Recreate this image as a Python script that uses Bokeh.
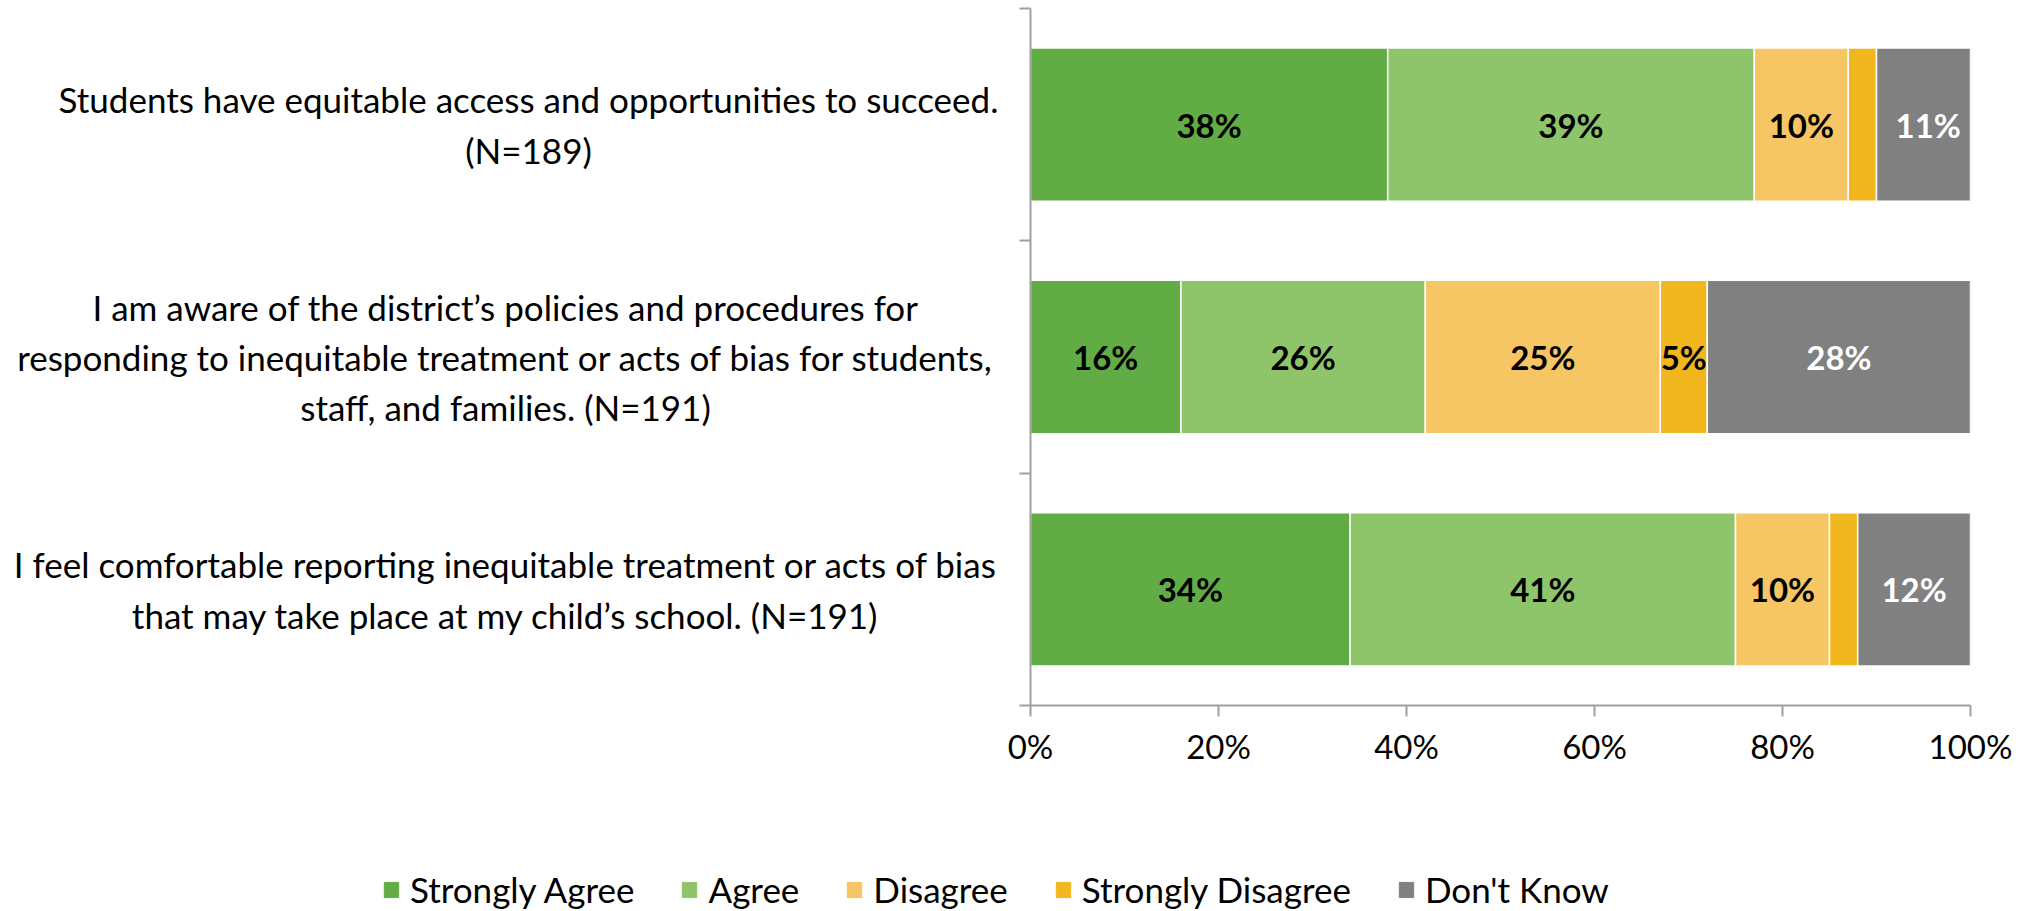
from bokeh.plotting import figure
from bokeh.layouts import row, column
from bokeh.models import (ColumnDataSource, Range1d, FixedTicker, NumeralTickFormatter,
                          Legend, LegendItem)
from bokeh.core.properties import value
from bokeh.embed import file_html
from bokeh.resources import INLINE

# ---------------- data ----------------
questions = [
    "Students have equitable access and opportunities to succeed.\n(N=189)",
    "I am aware of the district\u2019s policies and procedures for\n"
    "responding to inequitable treatment or acts of bias for students,\n"
    "staff, and families. (N=191)",
    "I feel comfortable reporting inequitable treatment or acts of bias\n"
    "that may take place at my child\u2019s school. (N=191)",
]
series = ["Strongly Agree", "Agree", "Disagree", "Strongly Disagree", "Don't Know"]
strongly_agree = [38, 16, 34]
agree = [39, 26, 41]
disagree = [10, 25, 10]
strongly_disagree = [3, 5, 3]
dont_know = [11, 28, 12]
x_ticks = [0, 20, 40, 60, 80, 100]

# ---------------- style / layout ----------------
colors = ["#62AC46", "#8EC56A", "#F6C564", "#F2B71E", "#808080"]
label_colors = ["#000000", "#000000", "#000000", "#000000", "#FFFFFF"]
FONT = "Lato"
FS_TEXT = "35px"
FS_NUM = "33px"
AXIS_COLOR = "#A0A0A0"
LEFT_W = 1000
MAIN_W = 1022
TOP_H = 780
LEG_H = 130
label_centers = [528, 505, 505]   # horizontal centre of each question block (px)

values = [strongly_agree, agree, disagree, strongly_disagree, dont_know]
keys = ["sa", "a", "d", "sd", "dk"]
n = len(questions)
ys = [n - i - 0.5 for i in range(n)]

data = {"y": ys}
for k, v in zip(keys, values):
    data[k] = [x / 100 for x in v]
src = ColumnDataSource(data)

y_range = Range1d(0, n)

# ---------------- main bar chart ----------------
p = figure(width=MAIN_W, height=TOP_H,
           x_range=Range1d(0, 1), y_range=y_range,
           output_backend="svg", toolbar_location=None,
           min_border_left=30, min_border_right=52,
           min_border_top=8, min_border_bottom=75)
p.outline_line_color = None
p.xgrid.grid_line_color = None
p.ygrid.grid_line_color = None

renderers = p.hbar_stack(keys, y="y", height=0.66, color=colors,
                         line_color="white", line_width=1.5, source=src)

lx, ly, lt, lc = [], [], [], []
for i in range(n):
    cum = 0
    for j, v in enumerate(values):
        val = v[i]
        if val >= 5:
            lx.append((cum + val / 2) / 100)
            ly.append(ys[i])
            lt.append(f"{val}%")
            lc.append(label_colors[j])
        cum += val
lsrc = ColumnDataSource(dict(x=lx, y=ly, text=lt, color=lc))
p.text(x="x", y="y", text="text", text_color="color", source=lsrc,
       text_font=value(FONT), text_font_style="bold", text_font_size=FS_NUM,
       text_align="center", text_baseline="middle")

xa = p.xaxis[0]
xa.ticker = FixedTicker(ticks=[t / 100 for t in x_ticks])
xa.formatter = NumeralTickFormatter(format="0%")
xa.major_label_text_font = FONT
xa.major_label_text_font_size = FS_NUM
xa.major_label_text_color = "#000000"
xa.major_label_standoff = 9
xa.axis_line_color = AXIS_COLOR
xa.axis_line_width = 2
xa.major_tick_line_color = AXIS_COLOR
xa.major_tick_line_width = 2
xa.major_tick_out = 11
xa.major_tick_in = 0
xa.minor_tick_line_color = None

ya = p.yaxis[0]
ya.ticker = FixedTicker(ticks=list(range(n + 1)))
ya.major_label_overrides = {t: "" for t in range(n + 1)}
ya.axis_line_color = AXIS_COLOR
ya.axis_line_width = 2
ya.major_tick_line_color = AXIS_COLOR
ya.major_tick_line_width = 2
ya.major_tick_out = 11
ya.major_tick_in = 0
ya.minor_tick_line_color = None

# ---------------- question labels ----------------
left = figure(width=LEFT_W, height=TOP_H,
              x_range=Range1d(0, LEFT_W), y_range=y_range,
              output_backend="svg", toolbar_location=None,
              x_axis_location=None, y_axis_location=None,
              min_border_left=0, min_border_right=0,
              min_border_top=8, min_border_bottom=75)
left.outline_line_color = None
left.xgrid.grid_line_color = None
left.ygrid.grid_line_color = None
qsrc = ColumnDataSource(dict(x=label_centers, y=ys, text=questions))
left.text(x="x", y="y", text="text", source=qsrc,
          text_font=value(FONT), text_font_size=FS_TEXT, text_color="#000000",
          text_align="center", text_baseline="middle", text_line_height=1.2)

# ---------------- legend ----------------
leg = figure(width=LEFT_W + MAIN_W, height=LEG_H,
             x_range=Range1d(0, 1), y_range=Range1d(0, 1),
             output_backend="svg", toolbar_location=None,
             x_axis_location=None, y_axis_location=None,
             min_border=0)
leg.outline_line_color = None
leg.xgrid.grid_line_color = None
leg.ygrid.grid_line_color = None
# legend-only swatches, placed outside the visible range
dummies = [leg.hbar(y=[-5], left=[0], right=[0.1], height=0.1, color=c) for c in colors]
legend = Legend(items=[LegendItem(label=s, renderers=[r]) for s, r in zip(series, dummies)],
                orientation="horizontal", location=(382, 0),
                glyph_width=18, glyph_height=19, label_standoff=10, spacing=46,
                padding=0, margin=0, border_line_color=None,
                background_fill_alpha=0,
                label_text_font=FONT, label_text_font_size=FS_TEXT,
                label_text_color="#000000")
leg.add_layout(legend)

layout = column(row(left, p, spacing=0), leg, spacing=0)
open("out.html", "w").write(file_html(layout, INLINE))
